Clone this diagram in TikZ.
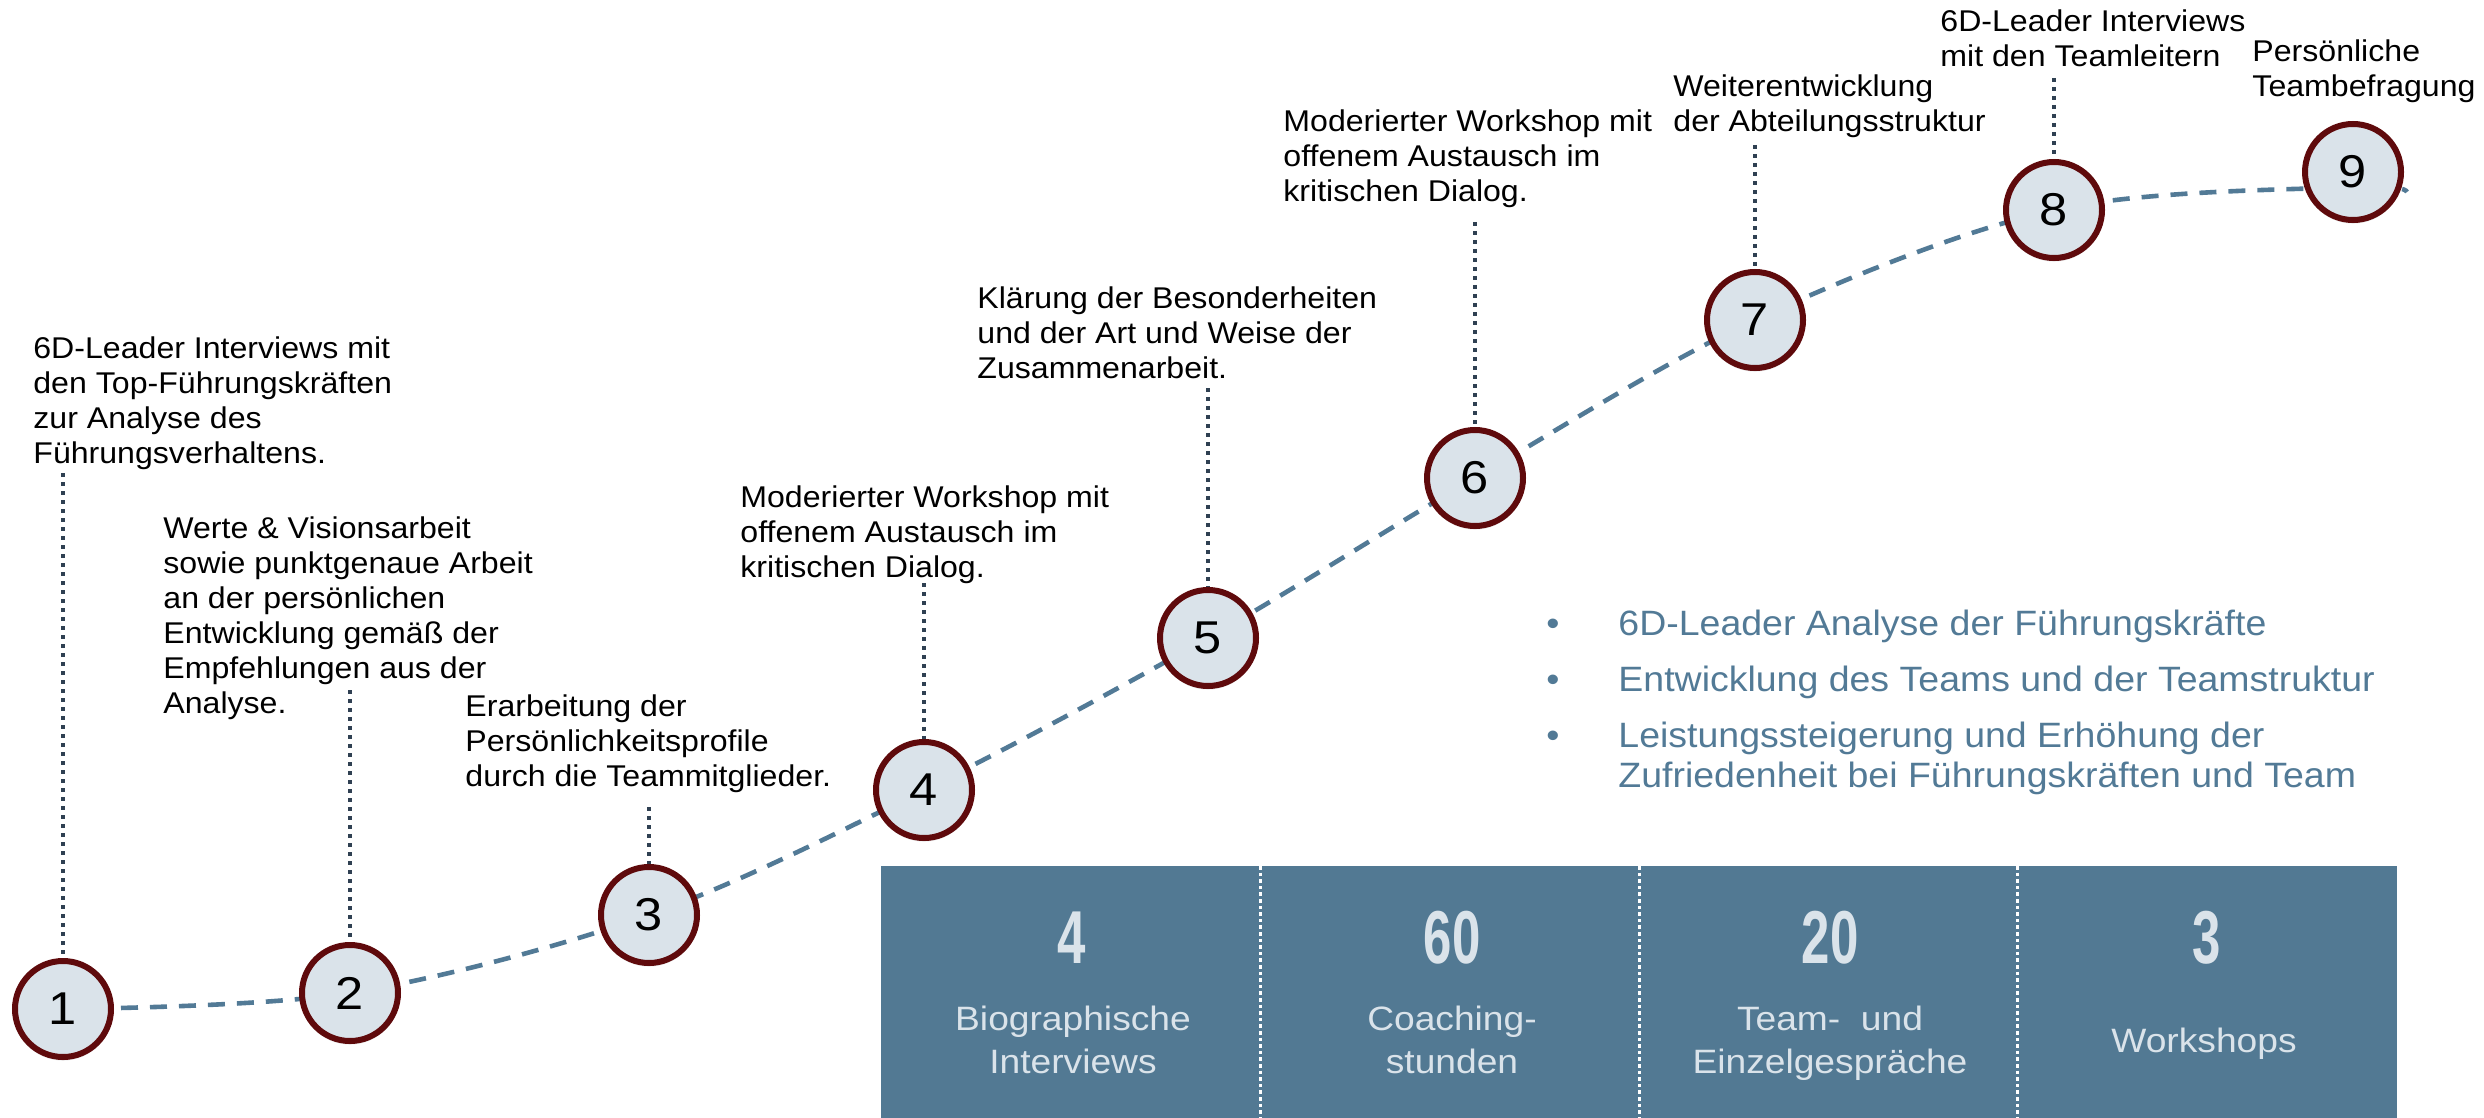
\documentclass[tikz,border=0pt]{standalone}
\usepackage{fontspec}
\setmainfont{Liberation Sans}[FakeStretch=1.07]
\newfontfamily\bulfont{Liberation Sans}[FakeStretch=1.065]
\newfontfamily\lblfont{Liberation Sans}[FakeStretch=1.1]
\newfontfamily\numfont{Liberation Sans}[FakeStretch=0.68]
\usetikzlibrary{shadows,backgrounds}
\definecolor{panelbg}{RGB}{82,121,147}
\definecolor{panelfg}{RGB}{218,227,234}
\definecolor{cfill}{RGB}{218,227,234}
\definecolor{cborder}{RGB}{95,10,12}
\definecolor{curvecol}{RGB}{82,122,150}
\definecolor{dotcol}{RGB}{47,64,82}
\newcommand\mltext[1]{\begin{tabular}[t]{@{}l@{}}#1\end{tabular}}
\newcommand\ctext[1]{\begin{tabular}[t]{@{}c@{}}#1\end{tabular}}
\begin{document}
\begin{tikzpicture}[x=0.5pt,y=-0.5pt,
  circ/.style={circle, minimum size=48pt, inner sep=0pt, line width=3pt,
    draw=cborder, fill=cfill, font=\lblfont\fontsize{23}{26}\selectfont,
    drop shadow={shadow xshift=0pt, shadow yshift=-0.8pt, shadow scale=1.04, opacity=0.18}},
  blk/.style={anchor=base west, inner sep=0pt, font=\fontsize{15}{17.5}\selectfont},
  btxt/.style={anchor=base west, inner sep=0pt, text=curvecol, font=\bulfont\fontsize{17.6}{20}\selectfont},
  bul/.style={anchor=base, inner sep=0pt, text=curvecol, font=\bulfont\fontsize{17.6}{20}\selectfont},
  dotline/.style={draw=dotcol, line width=2pt, dash pattern=on 2.2pt off 2.3pt},
  curveline/.style={draw=curvecol, line width=2.3pt, dash pattern=on 8.5pt off 6pt},
  panelbox/.style={anchor=north west, fill=panelbg, inner sep=0pt, minimum width=758pt, minimum height=126pt},
  divline/.style={draw=white, line width=1.5pt, dash pattern=on 1.8pt off 1.5pt},
  bignum/.style={anchor=base, inner sep=0pt, text=panelfg, font=\numfont\bfseries\fontsize{37.5}{40}\selectfont},
  lbl/.style={anchor=base, inner sep=0pt, text=panelfg, font=\lblfont\fontsize{16.9}{21.5}\selectfont}
]
\useasboundingbox (0,0) rectangle (2484,1118);

% bottom panel
\node[panelbox] (panel) at (881,866) {};
\coordinate (v1t) at (1260,866); \coordinate (v1b) at (1260,1118);
\coordinate (v2t) at (1639,866); \coordinate (v2b) at (1639,1118);
\coordinate (v3t) at (2017,866); \coordinate (v3b) at (2017,1118);
\draw[divline] (v1t) -- (v1b);
\draw[divline] (v2t) -- (v2b);
\draw[divline] (v3t) -- (v3b);

\node[bignum] (n1) at (1072,963) {4};
\node[bignum] (n2) at (1452,963) {60};
\node[bignum] (n3) at (1830,963) {20};
\node[bignum] (n4) at (2207,963) {3};
\node[lbl] (l1) at (1073,1030) {\ctext{Biographische\\Interviews}};
\node[lbl] (l2) at (1452,1030) {\ctext{Coaching-\\stunden}};
\node[lbl] (l3) at (1830,1030) {\ctext{Team-\ \ und\\Einzelgespräche}};
\node[lbl] (l4) at (2204,1052) {Workshops};

% circles
\node[circ] (c1) at (63,1009) {1};
\node[circ] (c2) at (350,993) {2};
\node[circ] (c3) at (649,915) {3};
\node[circ] (c4) at (924,790) {4};
\node[circ] (c5) at (1208,638) {5};
\node[circ] (c6) at (1475,478) {6};
\node[circ] (c7) at (1755,320) {7};
\node[circ] (c8) at (2054,210) {8};
\node[circ] (c9) at (2353,172) {9};
\coordinate (e9) at (2353,187);
\coordinate (cend) at (2407,192);

% text blocks
\node[blk] (t1) at (33,358) {\mltext{6D-Leader Interviews mit\\den Top-Führungskräften\\zur Analyse des\\Führungsverhaltens.}};
\node[blk] (t2) at (163,538) {\mltext{Werte \& Visionsarbeit\\sowie punktgenaue Arbeit\\an der persönlichen\\Entwicklung gemäß der\\Empfehlungen aus der\\Analyse.}};
\node[blk] (t3) at (465,716) {\mltext{Erarbeitung der\\Persönlichkeitsprofile\\durch die Teammitglieder.}};
\node[blk] (t4) at (740,507) {\mltext{Moderierter Workshop mit\\offenem Austausch im\\kritischen Dialog.}};
\node[blk] (t5) at (977,308) {\mltext{Klärung der Besonderheiten\\und der Art und Weise der\\Zusammenarbeit.}};
\node[blk] (t6) at (1283,132) {\mltext{Moderierter Workshop mit\\offenem Austausch im\\kritischen Dialog.}};
\node[blk] (t7) at (1673,97) {\mltext{Weiterentwicklung\\der Abteilungsstruktur}};
\node[blk] (t8) at (1940,32) {\mltext{6D-Leader Interviews\\mit den Teamleitern}};
\node[blk] (t9) at (2252,62) {\mltext{Persönliche\\Teambefragung}};

% dotted leader tops
\coordinate (d1) at (63,473);
\coordinate (d2) at (350,690);
\coordinate (d3) at (649,807);
\coordinate (d4) at (924,583);
\coordinate (d5) at (1208,388);
\coordinate (d6) at (1475,222);
\coordinate (d7) at (1755,145);
\coordinate (d8) at (2054,78);

% bullet list
\node[bul] (b1) at (1553,635) {\textbullet};
\node[bul] (b2) at (1553,691) {\textbullet};
\node[bul] (b3) at (1553,747) {\textbullet};
\node[btxt] (i1) at (1618,635) {6D-Leader Analyse der Führungskräfte};
\node[btxt] (i2) at (1618,691) {Entwicklung des Teams und der Teamstruktur};
\node[btxt] (i3) at (1618,747) {\mltext{Leistungssteigerung und Erhöhung der\\Zufriedenheit bei Führungskräften und Team}};

\begin{pgfonlayer}{background}
  \draw[curveline] plot[smooth, tension=0.55] coordinates {(c1.center) (c2.center) (c3.center) (c4.center) (c5.center) (c6.center) (c7.center) (c8.center) (e9) (cend)};
  \draw[dotline] (d1) -- (c1);
  \draw[dotline] (d2) -- (c2);
  \draw[dotline] (d3) -- (c3);
  \draw[dotline] (d4) -- (c4);
  \draw[dotline] (d5) -- (c5);
  \draw[dotline] (d6) -- (c6);
  \draw[dotline] (d7) -- (c7);
  \draw[dotline] (d8) -- (c8);
\end{pgfonlayer}
\end{tikzpicture}
\end{document}
